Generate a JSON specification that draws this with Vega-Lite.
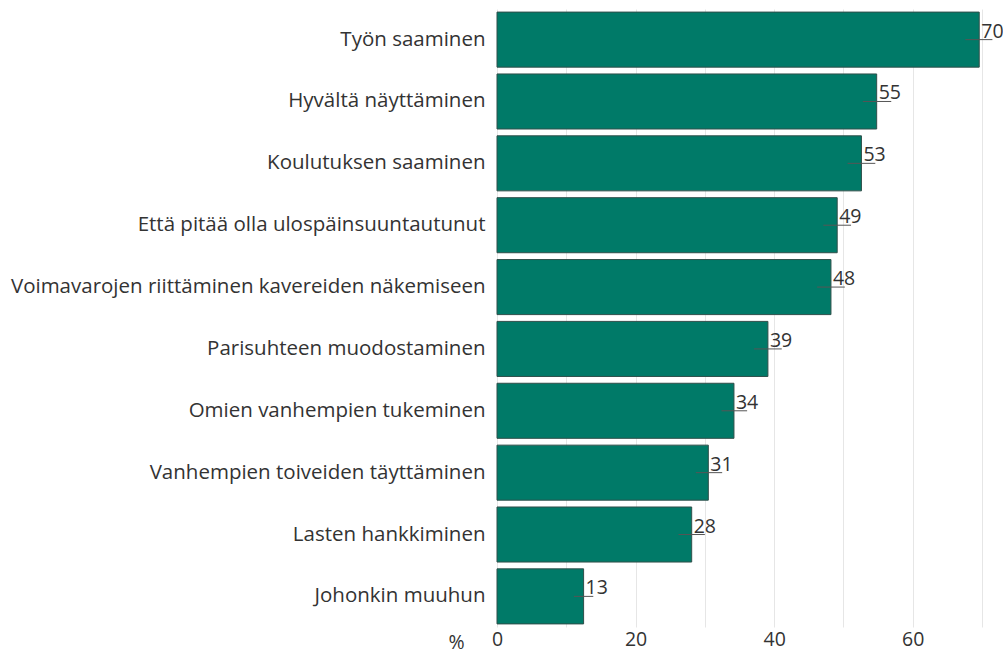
{
  "$schema": "https://vega.github.io/schema/vega-lite/v6.json",
  "autosize": {"type": "none"},
  "padding": {"left": 497, "top": 9, "right": 21, "bottom": 28},
  "width": 485,
  "height": 618,
  "background": "white",
  "config": {"view": {"stroke": null}, "font": "Open Sans"},
  "data": {"values": [
    {"cat": "Työn saaminen", "value": 69.6, "label": "70", "lo": 67.6, "hi": 71.5},
    {"cat": "Hyvältä näyttäminen", "value": 54.8, "label": "55", "lo": 52.8, "hi": 56.9},
    {"cat": "Koulutuksen saaminen", "value": 52.6, "label": "53", "lo": 50.6, "hi": 54.6},
    {"cat": "Että pitää olla ulospäinsuuntautunut", "value": 49.1, "label": "49", "lo": 47.1, "hi": 51.1},
    {"cat": "Voimavarojen riittäminen kavereiden näkemiseen", "value": 48.2, "label": "48", "lo": 46.2, "hi": 50.2},
    {"cat": "Parisuhteen muodostaminen", "value": 39.1, "label": "39", "lo": 37.1, "hi": 41.1},
    {"cat": "Omien vanhempien tukeminen", "value": 34.2, "label": "34", "lo": 32.4, "hi": 36.1},
    {"cat": "Vanhempien toiveiden täyttäminen", "value": 30.5, "label": "31", "lo": 28.7, "hi": 32.5},
    {"cat": "Lasten hankkiminen", "value": 28.1, "label": "28", "lo": 26.2, "hi": 30.0},
    {"cat": "Johonkin muuhun", "value": 12.5, "label": "13", "lo": 11.1, "hi": 13.9}
  ]},
  "encoding": {
    "y": {"field": "cat", "type": "nominal", "sort": null,
      "scale": {"paddingInner": 0.11, "paddingOuter": 0.05},
      "axis": {"title": null, "domain": false, "ticks": false, "labelFontSize": 20.5, "labelColor": "#333333", "labelPadding": 12, "labelLimit": 500}}
  },
  "layer": [
    {
      "mark": {"type": "bar", "color": "#007A68", "stroke": "#2f4f4a", "strokeWidth": 1},
      "encoding": {
        "x": {"field": "value", "type": "quantitative",
          "scale": {"domain": [0, 70], "nice": false},
          "axis": {"values": [0, 10, 20, 30, 40, 50, 60, 70], "labelExpr": "datum.value % 20 == 0 ? datum.label : ''",
            "grid": true, "gridColor": "#e6e6e6", "domain": false, "ticks": false, "labelFlush": false,
            "labelFontSize": 19.5, "labelColor": "#333333", "labelPadding": 3,
            "title": "%", "titleFontSize": 19.5, "titleFontWeight": "normal", "titleColor": "#333333",
            "titleAnchor": "start", "titleAlign": "center", "titleX": -41, "titleY": 15, "titleBaseline": "middle", "titleAngle": 0}}
      }
    },
    {
      "mark": {"type": "rule", "color": "#555555", "strokeWidth": 1},
      "encoding": {"x": {"field": "lo", "type": "quantitative"}, "x2": {"field": "hi"}}
    },
    {
      "mark": {"type": "text", "align": "left", "baseline": "alphabetic", "dx": 2, "dy": -2, "fontSize": 19.5, "color": "#333333"},
      "encoding": {"x": {"field": "value", "type": "quantitative"}, "text": {"field": "label"}}
    }
  ]
}
